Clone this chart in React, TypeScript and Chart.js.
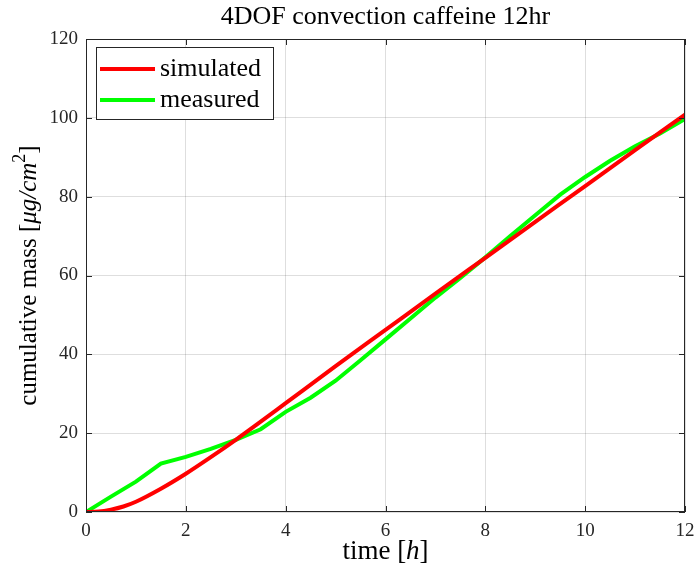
import React, { useEffect, useRef } from 'react';
import { Chart, registerables } from 'chart.js';
Chart.register(...registerables);

const titleText = '4DOF convection caffeine 12hr';
const timeSim = [0, 0.25, 0.5, 0.75, 1, 1.5, 2, 2.5, 3, 3.5, 4, 5, 6, 7, 8, 9, 10, 11, 12];
const simulated = [0, 0.1, 0.6, 1.4, 2.6, 5.9, 9.7, 13.9, 18.3, 22.9, 27.6, 37.0, 46.2, 55.4, 64.5, 73.6, 82.7, 91.8, 100.8];
const timeMeas = [0, 0.5, 1, 1.5, 2, 2.5, 3, 3.5, 4, 4.5, 5, 5.5, 6, 6.5, 7, 7.5, 8, 8.5, 9, 9.5, 10, 10.5, 11, 11.5, 12];
const measured = [0, 3.9, 7.7, 12.3, 14.0, 16.0, 18.3, 21.0, 25.4, 29.0, 33.3, 38.5, 43.8, 49.1, 54.4, 59.4, 64.6, 70.0, 75.3, 80.5, 85.0, 89.1, 92.8, 96.0, 99.7];
const seriesLabels = ['simulated', 'measured'];
const seriesColors = ['#ff0000', '#00ff00'];
const xTicks = [0, 2, 4, 6, 8, 10, 12];
const yTicks = [0, 20, 40, 60, 80, 100, 120];

const SERIF = '"Liberation Serif", "DejaVu Serif", serif';
const AX = '#262626';

type Seg = { t: string; italic?: boolean; sup?: boolean };

function drawSegs(ctx: CanvasRenderingContext2D, segs: Seg[], size: number, cx: number, cy: number) {
  const fontFor = (s: Seg) => `${s.italic ? 'italic ' : ''}${s.sup ? Math.round(size * 0.7) : size}px ${SERIF}`;
  let total = 0;
  const widths = segs.map((s) => {
    ctx.font = fontFor(s);
    const w = ctx.measureText(s.t).width;
    total += w;
    return w;
  });
  let x = cx - total / 2;
  ctx.textAlign = 'left';
  ctx.textBaseline = 'middle';
  segs.forEach((s, i) => {
    ctx.font = fontFor(s);
    ctx.fillText(s.t, x, s.sup ? cy - size * 0.35 : cy);
    x += widths[i];
  });
}

const decorPlugin = {
  id: 'decor',
  afterDraw(chart: any) {
    const ctx: CanvasRenderingContext2D = chart.ctx;
    const { left, top, right, bottom } = chart.chartArea;
    const xs = chart.scales.x;
    const ys = chart.scales.y;
    ctx.save();
    ctx.strokeStyle = AX;
    ctx.lineWidth = 1;
    ctx.strokeRect(left + 0.5, top + 0.5, right - left - 1, bottom - top - 1);
    ctx.beginPath();
    xTicks.forEach((v) => {
      const px = Math.round(xs.getPixelForValue(v)) + 0.5;
      ctx.moveTo(px, bottom); ctx.lineTo(px, bottom - 6);
      ctx.moveTo(px, top); ctx.lineTo(px, top + 6);
    });
    yTicks.forEach((v) => {
      const py = Math.round(ys.getPixelForValue(v)) + 0.5;
      ctx.moveTo(left, py); ctx.lineTo(left + 6, py);
      ctx.moveTo(right, py); ctx.lineTo(right - 6, py);
    });
    ctx.stroke();

    // legend
    const bx = left + 10, by = top + 8, bw = 177, bh = 72;
    ctx.fillStyle = '#ffffff';
    ctx.fillRect(bx, by, bw, bh);
    ctx.strokeStyle = AX;
    ctx.strokeRect(bx + 0.5, by + 0.5, bw, bh);
    seriesLabels.forEach((lab, i) => {
      const ly = by + 22 + i * 31;
      ctx.strokeStyle = seriesColors[i];
      ctx.lineWidth = 4;
      ctx.beginPath();
      ctx.moveTo(bx + 4, ly);
      ctx.lineTo(bx + 59, ly);
      ctx.stroke();
      ctx.fillStyle = '#000000';
      ctx.font = `26px ${SERIF}`;
      ctx.textAlign = 'left';
      ctx.textBaseline = 'middle';
      ctx.fillText(lab, bx + 64, ly);
    });

    ctx.fillStyle = '#000000';
    const cx = (left + right) / 2;
    drawSegs(ctx, [{ t: titleText }], 26, cx, 17);
    drawSegs(ctx, [{ t: 'time [' }, { t: 'h', italic: true }, { t: ']' }], 27, cx, 552);
    ctx.save();
    ctx.translate(29, (top + bottom) / 2);
    ctx.rotate(-Math.PI / 2);
    drawSegs(ctx, [{ t: 'cumulative mass [' }, { t: 'μg/cm', italic: true }, { t: '2', sup: true }, { t: ']' }], 25, 0, 0);
    ctx.restore();
    ctx.restore();
  },
};

export default function App() {
  const ref = useRef<HTMLCanvasElement | null>(null);
  useEffect(() => {
    document.body.style.margin = '0';
    const canvas = ref.current!;
    const chart = new Chart(canvas, {
      type: 'line',
      data: {
        datasets: [
          {
            label: seriesLabels[0],
            data: timeSim.map((x, i) => ({ x, y: simulated[i] })),
            borderColor: seriesColors[0],
            borderWidth: 4,
            pointRadius: 0,
            cubicInterpolationMode: 'monotone',
            fill: false,
          },
          {
            label: seriesLabels[1],
            data: timeMeas.map((x, i) => ({ x, y: measured[i] })),
            borderColor: seriesColors[1],
            borderWidth: 4,
            pointRadius: 0,
            tension: 0,
            fill: false,
          },
        ],
      },
      options: {
        animation: false,
        responsive: false,
        layout: { autoPadding: false, padding: { left: 0, top: 39, right: 9, bottom: 0 } },
        plugins: { legend: { display: false }, title: { display: false }, tooltip: { enabled: false } },
        scales: {
          x: {
            type: 'linear',
            min: 0,
            max: 12,
            afterFit: (s: any) => { s.height = 61; s.paddingLeft = 0; s.paddingRight = 0; },
            afterBuildTicks: (s: any) => { s.ticks = xTicks.map((v) => ({ value: v })); },
            ticks: { color: AX, font: { family: SERIF, size: 19 }, padding: 8, maxRotation: 0 },
            grid: { color: 'rgba(0,0,0,0.13)', drawTicks: false },
            border: { display: false },
          },
          y: {
            min: 0,
            max: 120,
            afterFit: (s: any) => { s.width = 86; s.paddingTop = 0; s.paddingBottom = 0; },
            afterBuildTicks: (s: any) => { s.ticks = yTicks.map((v) => ({ value: v })); },
            ticks: { color: AX, font: { family: SERIF, size: 19 }, padding: 8 },
            grid: { color: 'rgba(0,0,0,0.13)', drawTicks: false },
            border: { display: false },
          },
        },
      },
      plugins: [decorPlugin],
    } as any);
    return () => chart.destroy();
  }, []);
  return (
    <div style={{ width: 694, height: 573, background: '#fff' }}>
      <canvas ref={ref} width={694} height={573} style={{ display: 'block' }} />
    </div>
  );
}
